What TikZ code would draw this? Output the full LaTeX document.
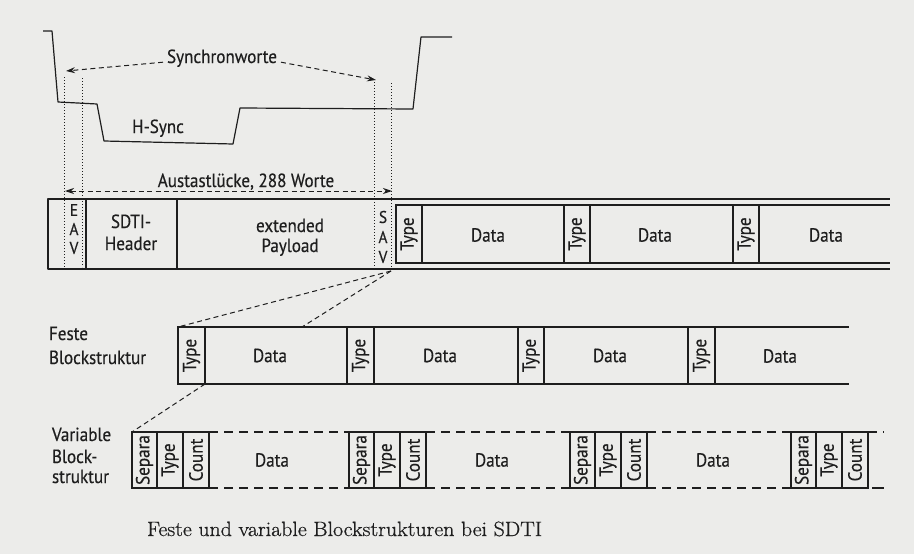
\documentclass[tikz,border=0pt]{standalone}
\usepackage{fontspec}
\usepackage{graphicx}
\newfontfamily\lblfont[FakeStretch=0.9,FakeBold=0.4]{PT Sans}
\newfontfamily\capfont[FakeBold=0.7]{Latin Modern Roman}
\usetikzlibrary{arrows.meta}
\definecolor{paper}{RGB}{236,236,234}
\definecolor{ink}{RGB}{30,30,30}
\begin{document}
\begin{tikzpicture}[x=1pt,y=-1pt,
  every node/.style={inner sep=0pt, outer sep=0pt, text=ink,
    font=\lblfont\fontsize{19}{22}\selectfont},
  line/.style={draw=ink, line width=1.2pt, line join=round},
  cell/.style={draw=ink, line width=1.1pt, anchor=north west},
  vlabel/.style={rotate=90},
  txt/.style={anchor=base},
  ltxt/.style={anchor=base west},
  letter/.style={font=\lblfont\fontsize{17}{18}\selectfont},
  dotline/.style={draw=ink, line width=0.9pt, dash pattern=on 1.2pt off 1.8pt},
  blockdash/.style={draw=ink, line width=1.1pt, dash pattern=on 9pt off 6pt},
  pointer/.style={draw=ink, line width=1pt, dash pattern=on 5pt off 3.5pt},
  tip/.style={-{Stealth[length=9pt,width=6pt]}},
  twotip/.style={{Stealth[length=9pt,width=6pt]}-{Stealth[length=9pt,width=6pt]}},
]
% paper
\fill[paper] (0,0) rectangle (914,554);
\useasboundingbox (0,0) rectangle (914,554);

% ---------- H-Sync signal ----------
\draw[line] (43,31) -- (52,31) -- (58,102) -- (97,104) -- (104,141)
  -- (233,144) -- (240,108) -- (413,109) -- (421,37) -- (452,37);
\node[txt] (hs) at (158,133) {H-Sync};

% synchronisation words
\node[txt] (sync) at (222,63) {Synchronworte};
\coordinate (eavtip) at (66,71);
\coordinate (savtip) at (376,80);
\draw[pointer, tip] ([xshift=-4pt,yshift=-4pt]sync.west) -- (eavtip);
\draw[pointer, tip] ([xshift=4pt,yshift=-4pt]sync.east) -- (savtip);

% blanking interval
\node[txt] (aus) at (246,187) {Austastlücke, 288 Worte};
\coordinate (ausL) at (65,191);
\coordinate (ausR) at (392,191);
\draw[pointer, twotip] (ausL) -- (ausR);

% ---------- SDI line with SDTI ----------
\draw[line] (391,199) -- (48,199) -- (48,269) -- (391,269);
\draw[line] (86,199) -- (86,269);
\draw[line] (177,199) -- (177,269);
\node[txt] (hdr1) at (131,228) {SDTI-};
\node[txt] (hdr2) at (131,250) {Header};
\node[txt] (pay1) at (290,232) {extended};
\node[txt] (pay2) at (290,252) {Payload};
\node[letter] (e1) at (74,210) {E};
\node[letter] (e2) at (74,229) {A};
\node[letter] (e3) at (74,248) {V};
\node[letter] (s1) at (383,217) {S};
\node[letter] (s2) at (383,237) {A};
\node[letter] (s3) at (383,257) {V};

% timing references (EAV / SAV)
\coordinate (d1t) at (64,77);  \coordinate (d1b) at (64,267);
\coordinate (d2t) at (82,78);  \coordinate (d2b) at (82,267);
\coordinate (d3t) at (374,82); \coordinate (d3b) at (374,269);
\coordinate (d4t) at (391,83); \coordinate (d4b) at (391,271);
\draw[dotline] (d1t) -- (d1b);
\draw[dotline] (d2t) -- (d2b);
\draw[dotline] (d3t) -- (d3b);
\draw[dotline] (d4t) -- (d4b);

% transport channel: double rails
\draw[line] (391,199) -- (890,199);
\draw[line] (391,269) -- (890,269);
\draw[line] (396,205) -- (890,205);
\draw[line] (396,263) -- (890,263);
\foreach \a/\b/\n in {396/422/1, 564/590/2, 733/759/3}{
  \node[cell, minimum width=\b-\a, minimum height=58] (mt\n) at (\a,205) {};
  \node[vlabel] at (mt\n.center) {Type};
}
\foreach \a/\b/\n in {422/564/1, 590/733/2}{
  \node[cell, minimum width=\b-\a, minimum height=58] (md\n) at (\a,205) {};
}
\node (mx1) at (488,235) {Data};
\node (mx2) at (655,235) {Data};
\node (mx3) at (826,235) {Data};

% ---------- fixed block structure ----------
\node[ltxt] (flab1) at (49,340) {Feste};
\node[ltxt] (flab2) at (49,364) {Blockstruktur};
\draw[line] (715,327) -- (849,327);
\draw[line] (715,384) -- (849,384);
\foreach \a/\b/\n in {178/205/1, 347/374/2, 518/544/3, 688/715/4}{
  \node[cell, minimum width=\b-\a, minimum height=57] (ft\n) at (\a,327) {};
  \node[vlabel] at (ft\n.center) {Type};
}
\foreach \a/\b/\n in {205/347/1, 374/518/2, 544/688/3}{
  \node[cell, minimum width=\b-\a, minimum height=57] (fd\n) at (\a,327) {};
  \node at ([xshift=-6pt]fd\n.center) {Data};
}
\node (fx4) at (780,356) {Data};

% zoom from the SAV end to the fixed blocks
\coordinate (zoomA) at (302,327);
\draw[pointer] (d4b) -- (ft1.north west);
\draw[pointer] (d4b) -- (zoomA);

% ---------- variable block structure ----------
\node[ltxt] (vlab1) at (52,441) {Variable};
\node[ltxt] (vlab2) at (52,463) {Block-};
\node[ltxt] (vlab3) at (52,483) {struktur};
\foreach \x/\n in {132/1, 349/2, 570/3, 791/4}{
  \node[cell, minimum width=25, minimum height=56] (vs\n) at (\x,432) {};
  \node[cell, minimum width=26, minimum height=56] (vt\n) at (\x+25,432) {};
  \node[cell, minimum width=26, minimum height=56] (vc\n) at (\x+51,432) {};
  \node[vlabel] at (vs\n.center) {Separa};
  \node[vlabel] at (vt\n.center) {Type};
  \node[vlabel] at (vc\n.center) {Count};
}
\foreach \p/\q in {1/2, 2/3, 3/4}{
  \draw[blockdash] (vc\p.north east) -- (vs\q.north west);
  \draw[blockdash] (vc\p.south east) -- (vs\q.south west);
}
\coordinate (vendT) at (884,432);
\coordinate (vendB) at (884,488);
\draw[blockdash] (vc4.north east) -- (vendT);
\draw[blockdash, dash pattern=on 0pt off 4pt on 11pt] (vc4.south east) -- (vendB);
\node (vx1) at (272,460) {Data};
\node (vx2) at (492,460) {Data};
\node (vx3) at (713,460) {Data};

\draw[pointer] (ft1.south east) -- (vs1.north west);

% ---------- caption ----------
\node[ltxt] (cap) at (147,536)
  {\resizebox{395pt}{14.5pt}{\capfont Feste und variable Blockstrukturen bei SDTI}};
\end{tikzpicture}
\end{document}
